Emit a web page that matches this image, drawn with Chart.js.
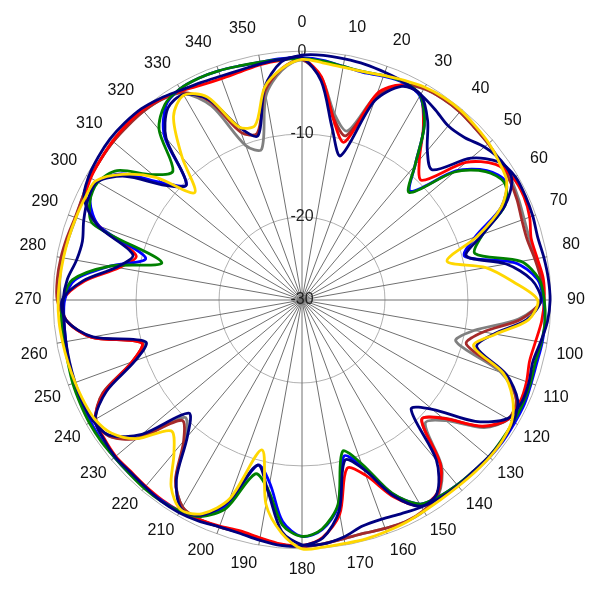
<!DOCTYPE html>
<html><head><meta charset="utf-8">
<script src="https://cdn.jsdelivr.net/npm/chart.js@4"></script>
<style>html,body{margin:0;padding:0;background:#fff}canvas{display:block}</style>
</head><body>
<canvas id="c" width="600" height="600"></canvas>
<script>
// azimuth (degrees), every 5 degrees
const angles = ['0','5','10','15','20','25','30','35','40','45','50','55',
 '60','65','70','75','80','85','90','95','100','105','110','115',
 '120','125','130','135','140','145','150','155','160','165','170','175',
 '180','185','190','195','200','205','210','215','220','225','230','235',
 '240','245','250','255','260','265','270','275','280','285','290','295',
 '300','305','310','315','320','325','330','335','340','345','350','355'];

// radial tick values (dB)
const radialTicks = [-30, -20, -10, 0];

// series values (dB) at each azimuth
const redSeries = [-0.9,-3.0,-8.0,-10.3,-3.5,-1.4,-1.5,-4.5,-8.0,-9.6,-4.2,-1.5,
 -0.6,-0.5,-0.8,-1.4,-1.2,-0.8,-0.8,-1.0,-1.4,-1.6,-1.2,-1.0,
 -1.3,-3.5,-7.8,-9.6,-4.0,-1.6,-1.4,-3.8,-7.5,-9.0,-3.8,-1.3,
 -0.4,-0.5,-0.9,-1.2,-1.0,-0.8,-0.6,-0.6,-0.7,-0.8,-0.7,-0.9,
 -1.2,-3.8,-8.2,-10.0,-4.2,-1.5,-1.2,-3.7,-7.6,-9.3,-4.0,-1.2,
 -0.6,-0.4,-0.2,-0.1,-0.1,-0.4,-0.9,-1.4,-1.6,-1.5,-1.2,-1.0];
const navyASeries = [-0.8,-3.5,-9.0,-12.0,-4.5,-1.6,-1.4,-3.6,-6.5,-7.8,-3.4,-1.0,
 -0.3,-0.3,-0.4,-0.6,-0.4,-0.2,-0.1,-0.3,-0.8,-1.2,-0.9,-0.8,
 -1.4,-4.5,-9.5,-11.4,-4.8,-1.6,-1.3,-4.0,-8.3,-10.0,-4.2,-1.2,
 -0.4,-0.3,-0.6,-0.9,-0.9,-0.6,-0.4,-0.4,-0.6,-0.7,-0.6,-0.8,
 -1.2,-4.0,-8.6,-10.5,-4.4,-1.5,-1.1,-3.5,-7.3,-8.9,-3.8,-1.0,
 -0.3,0.0,0.2,0.2,0.1,-0.3,-0.8,-1.1,-1.3,-1.3,-1.1,-0.9];
const graySeries = [-1.1,-3.1,-7.3,-8.9,-3.7,-1.4,-0.6,-0.4,-0.4,-0.6,-0.7,-0.8,
 -0.9,-1.2,-1.5,-1.6,-1.3,-1.0,-1.0,-3.8,-8.9,-10.8,-4.5,-1.5,
 -1.3,-3.2,-7.4,-9.0,-3.8,-1.3,-0.6,-0.5,-0.7,-0.9,-0.8,-0.5,
 -0.3,-0.4,-0.8,-1.0,-0.9,-0.8,-1.2,-3.5,-8.2,-10.0,-4.2,-1.5,
 -1.3,-3.6,-8.4,-10.2,-4.3,-1.5,-0.9,-0.7,-0.7,-0.9,-1.0,-0.8,
 -0.5,-0.4,-0.3,-0.3,-0.3,-0.5,-1.2,-4.2,-10.2,-11.2,-5.0,-2.2];
const brownSeries = [-1.0,-3.3,-7.8,-9.5,-4.0,-1.4,-0.6,-0.4,-0.4,-0.6,-0.7,-0.9,
 -1.1,-1.4,-1.8,-1.9,-1.5,-1.1,-1.1,-3.5,-7.8,-9.5,-4.0,-1.5,
 -1.3,-3.4,-7.9,-9.6,-4.0,-1.4,-0.7,-0.5,-0.7,-0.9,-0.8,-0.5,
 -0.3,-0.4,-0.8,-1.0,-0.9,-0.8,-1.2,-3.4,-7.8,-9.5,-4.0,-1.5,
 -1.3,-3.5,-8.2,-10.0,-4.2,-1.5,-0.5,-0.4,-0.5,-0.7,-0.9,-0.8,
 -0.5,-0.4,-0.3,-0.3,-0.3,-0.5,-1.1,-3.5,-8.5,-9.2,-4.4,-2.0];
const greenSeries = [-0.9,-1.1,-1.4,-1.5,-1.2,-1.0,-1.5,-4.3,-8.8,-11.7,-6.0,-3.0,
 -1.8,-3.0,-6.8,-8.4,-3.2,-1.3,-0.8,-0.6,-0.7,-0.9,-0.7,-0.6,
 -0.6,-0.6,-0.6,-0.8,-0.9,-1.1,-1.6,-4.3,-9.0,-11.1,-5.0,-2.3,
 -1.5,-2.8,-6.7,-8.3,-3.3,-1.2,-0.6,-0.4,-0.4,-0.5,-0.5,-0.4,
 -0.4,-0.5,-0.6,-0.8,-0.9,-0.9,-1.2,-2.2,-6.5,-12.5,-3.2,-1.8,
 -1.6,-2.8,-6.5,-8.0,-3.2,-1.2,-0.6,-0.5,-0.6,-0.8,-0.9,-0.9];
const blueSeries = [-0.8,-1.0,-1.4,-1.6,-1.3,-1.1,-1.6,-4.3,-8.8,-11.5,-5.8,-2.8,
 -1.6,-3.5,-7.8,-9.7,-4.0,-1.5,-0.9,-0.6,-0.6,-0.7,-0.6,-0.4,
 -0.4,-0.4,-0.5,-0.7,-0.9,-1.1,-1.6,-4.2,-8.6,-10.5,-4.8,-2.2,
 -1.5,-3.2,-7.6,-9.4,-3.8,-1.3,-0.6,-0.5,-0.5,-0.5,-0.5,-0.5,
 -0.6,-0.7,-0.8,-0.9,-1.1,-1.2,-1.4,-2.5,-6.5,-10.5,-4.0,-1.8,
 -1.5,-3.5,-8.0,-10.3,-4.2,-1.4,-0.6,-0.5,-0.6,-0.8,-0.9,-0.8];
const yellowSeries = [-1.0,-1.3,-1.5,-1.5,-1.2,-0.8,-0.4,-0.2,-0.2,-0.4,-0.6,-1.0,
 -1.5,-3.5,-7.5,-11.9,-7.5,-4.5,-1.6,-2.6,-6.3,-8.6,-4.2,-2.0,
 -0.8,-0.5,-0.5,-0.6,-0.7,-0.7,-0.6,-0.4,-0.3,-0.2,-0.2,-0.1,
 0.0,-1.8,-5.0,-11.3,-4.5,-1.6,-0.8,-2.5,-6.0,-7.7,-4.0,-2.0,
 -1.2,-1.0,-0.9,-0.8,-0.7,-0.6,-0.6,-0.7,-0.8,-0.9,-1.0,-1.1,
 -1.3,-3.6,-7.0,-11.7,-7.5,-3.0,-1.5,-3.0,-7.8,-8.2,-4.0,-2.0];
const navyBSeries = [-0.5,-0.4,-0.5,-0.6,-0.8,-1.0,-1.4,-2.0,-2.6,-2.3,-1.3,-0.7,
 -0.8,-3.0,-6.8,-9.5,-5.0,-2.2,-1.2,-2.8,-6.5,-8.2,-3.8,-1.3,
 -0.6,-0.5,-0.6,-0.8,-0.8,-0.9,-1.2,-1.6,-1.9,-1.8,-1.0,-0.5,
 -0.5,-2.0,-6.5,-9.4,-4.2,-1.4,-0.9,-3.6,-8.5,-10.7,-4.8,-1.6,
 -0.9,-0.8,-0.9,-1.0,-1.1,-1.2,-1.2,-1.6,-2.4,-2.6,-2.0,-1.5,
 -1.5,-4.0,-8.5,-10.3,-4.5,-1.8,-1.4,-3.3,-7.8,-9.5,-4.0,-1.2];

const seriesList = [
  {name:'yellow', data: yellowSeries, color:'#ffd700'},
  {name:'navyB', data: navyBSeries, color:'#000080'},
  {name:'navyA', data: navyASeries, color:'#000080'},
  {name:'green', data: greenSeries, color:'#008000'},
  {name:'blue', data: blueSeries, color:'#0000ff'},
  {name:'red', data: redSeries, color:'#ff0000'},
  {name:'brown', data: brownSeries, color:'#a52a2a'},
  {name:'gray', data: graySeries, color:'#808080'}
];

const font = {family: "'Liberation Sans', Arial, sans-serif", size: 16};

// place angle labels so that their centres sit on a ring just outside the plot
function labelPadding(ctx) {
  const a = ctx.index * 5 * Math.PI / 180;
  const w = String(ctx.label || '').length * 8.9;
  return 15 - (w / 2) * Math.abs(Math.sin(a)) - 9.6 * Math.abs(Math.cos(a)) + 4 * Math.cos(a);
}

new Chart(document.getElementById('c'), {
  type: 'radar',
  data: {
    labels: angles,
    datasets: seriesList.map(s => ({
      label: s.name, data: s.data, borderColor: s.color, backgroundColor: s.color,
      fill: false, borderWidth: 2.8, pointRadius: 0, pointHoverRadius: 0, tension: 0.3
    }))
  },
  options: {
    responsive: false, animation: false, devicePixelRatio: 1,
    layout: {padding: {top: 9.5, bottom: 15.5, left: 0, right: 0}},
    plugins: {legend: {display: false}, tooltip: {enabled: false}},
    scales: {
      r: {
        min: radialTicks[0], max: radialTicks[radialTicks.length - 1],
        afterBuildTicks: (scale) => { scale.ticks = radialTicks.map(v => ({value: v})); },
        ticks: {showLabelBackdrop: false, color: '#222', font: font},
        grid: {circular: true, color: '#b0b0b0', lineWidth: 1},
        angleLines: {
          color: (ctx) => (ctx.index % 2 === 0 ? '#707070' : 'rgba(0,0,0,0)'),
          lineWidth: (ctx) => (ctx.index % 2 === 0 ? 1 : 0)
        },
        pointLabels: {
          callback: (label, index) => (index % 2 === 0 ? label : ''),
          color: '#111', font: font, padding: labelPadding
        }
      }
    }
  }
});
</script>
</body></html>
